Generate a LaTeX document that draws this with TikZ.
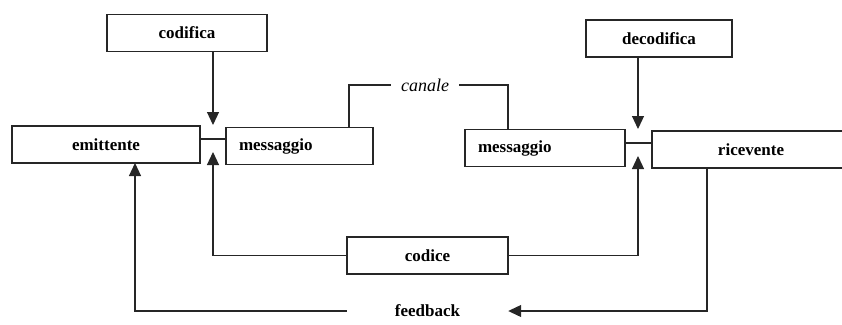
\documentclass[tikz,border=0pt]{standalone}
\usepackage{fontspec}
\setmainfont{Liberation Serif}
\usetikzlibrary{arrows.meta}
\tikzset{
  box/.style={draw=black!85,line width=1.2pt,minimum height=37pt,font=\fontsize{17}{19}\selectfont\bfseries},
  lbox/.style={box,text width=#1,align=left,inner xsep=13pt},
  link/.style={draw=black!85,line width=1.2pt},
  arr/.style={link,-{Triangle[length=13pt,width=12pt]}}
}
\begin{document}
\begin{tikzpicture}[x=1pt,y=-1pt]
\useasboundingbox (0,0) rectangle (842,324);
% sender side
\node[box,minimum width=160pt] (codifica) at (187,33) {codifica};
\node[box,minimum width=188pt] (emittente) at (106,144.5) {emittente};
\node[lbox=121pt] (msgS) at (299.5,146) {messaggio};
\coordinate (gapS) at (213,139);
\draw[link] (emittente.east |- gapS) -- (msgS.west |- gapS);
\draw[arr] (gapS |- codifica.south) -- ([yshift=14pt]gapS);

% receiver side
\node[box,minimum width=146pt] (decodifica) at (659,38.5) {decodifica};
\node[lbox=134pt] (msgR) at (545,148) {messaggio};
\node[box,minimum width=198pt] (ricevente) at (751,149.5) {ricevente};
\coordinate (gapR) at (638,143);
\draw[link] (msgR.east |- gapR) -- (ricevente.west |- gapR);
\draw[arr] (gapR |- decodifica.south) -- ([yshift=14pt]gapR);

% channel
\node[font=\fontsize{18}{20}\selectfont\itshape,inner xsep=10pt] (canale) at (425,85) {canale};
\draw[link] (349,127) |- (canale.west);
\draw[link] (canale.east) -| (508,130);

% code
\node[box,minimum width=161pt] (codice) at (427.5,255.5) {codice};
\draw[arr] (codice.west) -| ([yshift=-13pt]gapS);
\draw[arr] (codice.east) -| ([yshift=-13pt]gapR);

% feedback
\node[font=\fontsize{17}{19}\selectfont\bfseries,minimum width=161pt] (fb) at (427.5,311) {feedback};
\draw[arr] (fb.west) -| (135,163);
\draw[arr] (707,168) |- (fb.east);
\end{tikzpicture}
\end{document}
